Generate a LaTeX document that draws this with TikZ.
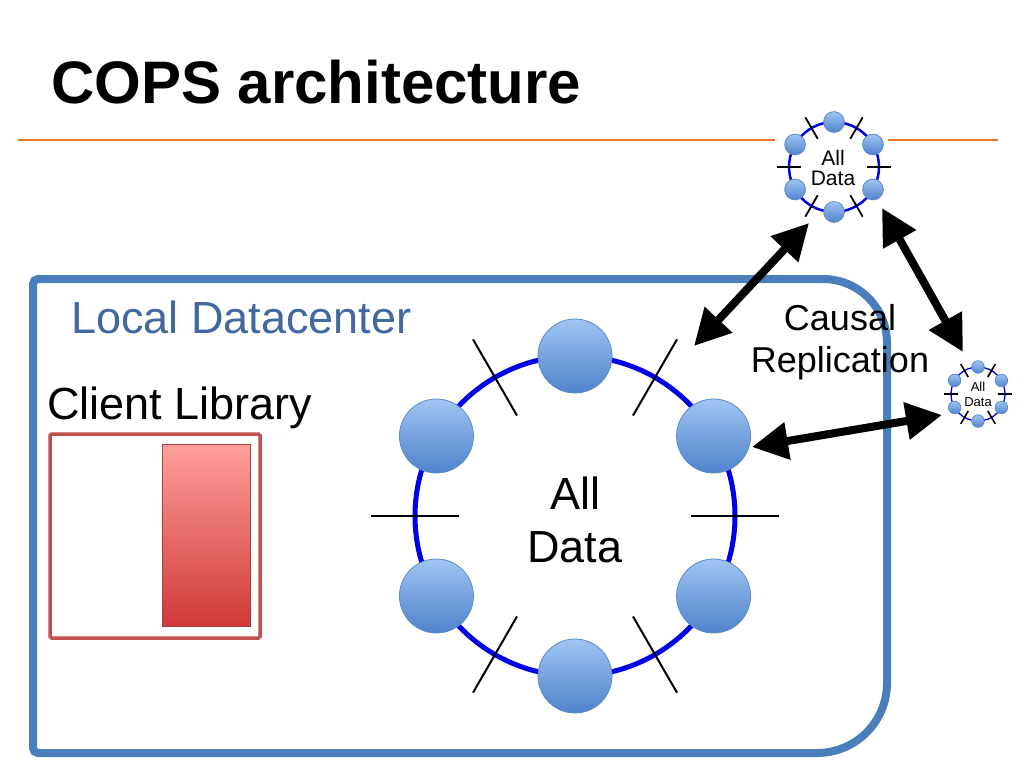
\documentclass[tikz,border=0pt]{standalone}
\usepackage{fontspec}
\setmainfont{Liberation Sans}
\usetikzlibrary{arrows.meta}

\definecolor{dcblue}{HTML}{4A7EBB}
\definecolor{dctext}{HTML}{41699F}
\definecolor{ringblue}{HTML}{0000E6}
\definecolor{servertop}{HTML}{A0C4F2}
\definecolor{serverbottom}{HTML}{4F83CC}
\definecolor{serveredge}{HTML}{5B8BC8}
\definecolor{libedge}{HTML}{C0504D}
\definecolor{libtop}{HTML}{FF9E9C}
\definecolor{libbottom}{HTML}{D03A38}
\definecolor{titlerule}{HTML}{E8772A}

\tikzset{
  server/.style={draw=serveredge, line width=0.8pt, top color=servertop, bottom color=serverbottom},
  ringline/.style={draw=ringblue},
  tickline/.style={draw=black, line cap=butt},
  replarrow/.style={line width=8pt, {Triangle[width=36pt,length=36pt]}-{Triangle[width=36pt,length=36pt]}},
  bigtext/.style={font=\fontsize{45}{53}\selectfont, inner sep=0pt}
}

% ring of servers: center, scale, ring width, tick width
\newcommand{\dcring}[4]{%
  \begin{scope}[shift={(#1)}, scale=#2]
    \draw[ringline, line width=#3] (0,0) circle [radius=160];
    \foreach \a in {0,60,...,300}
      \draw[tickline, line width=#4] (\a:116) -- (\a:204);
    \foreach \a in {30,90,...,330}
      \draw[server] (\a:160) circle [radius=37];
  \end{scope}}

\begin{document}
\begin{tikzpicture}[x=1pt,y=-1pt]
\useasboundingbox[fill=white] (0,0) rectangle (1024,768);

% title
\node[font=\fontsize{60}{70}\selectfont\bfseries, anchor=base west, inner sep=0pt] (title) at (51,103) {COPS architecture};
\draw[titlerule, line width=2.8pt] (18,140) -- (775,140);
\draw[titlerule, line width=2.8pt] (888,140) -- (998,140);

% local datacenter
\draw[dcblue, line width=8pt] (33,748) -- (33,284) arc[start angle=180, end angle=270, radius=5]
  -- (823,279) arc[start angle=270, end angle=360, radius=64]
  -- (887,683) arc[start angle=0, end angle=90, radius=70]
  -- (38,753) arc[start angle=90, end angle=180, radius=5] -- cycle;
\node[bigtext, text=dctext, anchor=base west] (local) at (71,333) {Local Datacenter};
\node[bigtext, anchor=base west] (client) at (47,419) {Client Library};

% client library
\draw[libedge, line width=3.5pt, rounded corners=1.5pt] (50,434) rectangle (260,638);
\draw[draw=libedge!85!black, line width=0.6pt, top color=libtop, bottom color=libbottom] (162,444) rectangle (250,626);

% rings
\dcring{575,516}{1}{5pt}{2pt}
\node[bigtext, align=center] (alldata) at (575,520) {All\\Data};
\dcring{834,167}{0.281}{2.5pt}{1.8pt}
\node[font=\fontsize{21}{20}\selectfont, align=center, inner sep=0pt] (alldataA) at (833,168) {All\\Data};
\dcring{978,394}{0.169}{1.3pt}{1.6pt}
\node[font=\fontsize{13}{15}\selectfont, align=center, inner sep=0pt] (alldataB) at (978,394) {All\\Data};

% replication
\node[font=\fontsize{36}{42}\selectfont, align=center, inner sep=0pt] (causal) at (840,342) {Causal\\Replication};
\coordinate (localtop) at (694,346);
\coordinate (remoteA) at (809,223);
\coordinate (remoteAr) at (882,208);
\coordinate (remoteB) at (963,352);
\coordinate (localside) at (752,447);
\coordinate (remoteBl) at (942,415);
\draw[replarrow] (localtop) -- (remoteA);
\draw[replarrow] (remoteAr) -- (remoteB);
\draw[replarrow] (localside) -- (remoteBl);
\end{tikzpicture}
\end{document}
